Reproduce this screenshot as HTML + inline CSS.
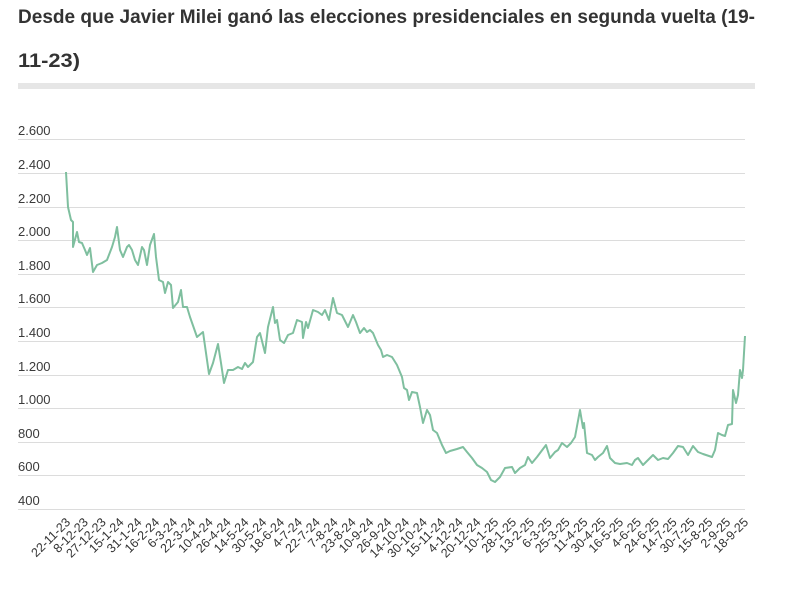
<!DOCTYPE html>
<html><head><meta charset="utf-8"><style>
html,body{margin:0;padding:0;background:#fff;width:800px;height:600px;overflow:hidden}
svg{display:block}
text{font-family:"Liberation Sans",sans-serif}
</style></head><body>
<svg width="800" height="600" viewBox="0 0 800 600" xmlns="http://www.w3.org/2000/svg">
<text x="18" y="23" font-size="19" font-weight="bold" fill="#333" textLength="737" lengthAdjust="spacingAndGlyphs">Desde que Javier Milei ganó las elecciones presidenciales en segunda vuelta (19-</text>
<text x="18" y="67" font-size="19" font-weight="bold" fill="#333" textLength="62" lengthAdjust="spacingAndGlyphs">11-23)</text>
<rect x="18" y="83" width="737" height="6" fill="#e6e6e6"/>
<g stroke="#dcdcdc" stroke-width="1">
<line x1="18" x2="745" y1="139.5" y2="139.5"/><line x1="18" x2="745" y1="173.5" y2="173.5"/>
<line x1="18" x2="745" y1="207.5" y2="207.5"/><line x1="18" x2="745" y1="240.5" y2="240.5"/>
<line x1="18" x2="745" y1="274.5" y2="274.5"/><line x1="18" x2="745" y1="307.5" y2="307.5"/>
<line x1="18" x2="745" y1="341.5" y2="341.5"/><line x1="18" x2="745" y1="375.5" y2="375.5"/>
<line x1="18" x2="745" y1="408.5" y2="408.5"/><line x1="18" x2="745" y1="442.5" y2="442.5"/>
<line x1="18" x2="745" y1="475.5" y2="475.5"/><line x1="18" x2="745" y1="509.5" y2="509.5"/>
</g>
<g font-size="13" fill="#3a3a3a">
<text x="18" y="135">2.600</text><text x="18" y="169">2.400</text><text x="18" y="203">2.200</text>
<text x="18" y="236">2.000</text><text x="18" y="270">1.800</text><text x="18" y="303">1.600</text>
<text x="18" y="337">1.400</text><text x="18" y="371">1.200</text><text x="18" y="404">1.000</text>
<text x="18" y="438">800</text><text x="18" y="471">600</text><text x="18" y="505">400</text>
</g>
<polyline fill="none" stroke="#7fbf9f" stroke-width="2" stroke-linejoin="round" points="66,172 68,207 71,220 73,222 73,247 77,232 79,242 82,243 85,250 87,255 90,248 93,272 97,265 102,263 107,260 112,247 115,237 117,227 120,250 123,257 127,247 129,245 132,250 135,260 138,265 142,247 144,250 147,265 150,245 154,234 156,257 159,280 163,282 165,293 168,282 171,285 173,308 178,302 181,290 183,307 187,307 190,317 197,337 203,332 209,374 213,363 218,344 221,363 224,383 228,370 233,370 238,367 242,369 245,363 248,367 253,362 257,337 260,333 265,353 268,327 273,307 275,323 277,320 280,340 284,343 288,335 293,333 297,320 302,322 303,338 306,322 308,328 313,310 318,312 322,315 325,310 329,320 333,298 337,313 342,315 348,327 353,315 356,322 360,333 364,328 367,332 370,330 373,333 378,345 381,350 383,357 387,355 392,357 397,365 402,377 404,388 407,390 409,400 412,392 417,393 420,407 423,423 427,410 430,415 433,430 437,433 442,445 446,453 450,451 457,449 463,447 467,452 472,458 477,465 482,468 487,472 491,480 495,482 500,477 505,468 512,467 515,473 520,468 525,465 528,457 532,463 537,457 540,453 546,445 550,458 555,452 558,450 562,443 567,447 571,443 575,437 580,410 583,428 584,423 587,453 592,455 595,460 598,457 603,453 607,446 610,458 615,463 620,464 627,463 632,465 635,460 638,458 643,465 648,460 653,455 658,460 663,458 668,459 673,453 678,446 683,447 688,455 693,446 698,452 703,454 712,457 715,450 718,433 722,435 725,436 728,425 732,424 733,390 736,403 738,395 740,370 742,378 743,370 745,336"/>
<g font-size="12.5" fill="#333" text-anchor="end" id="xl"></g>
</svg>
<script>
var L="22-11-23 8-12-23 27-12-23 15-1-24 31-1-24 16-2-24 6-3-24 22-3-24 10-4-24 26-4-24 14-5-24 30-5-24 18-6-24 4-7-24 22-7-24 7-8-24 23-8-24 10-9-24 26-9-24 14-10-24 30-10-24 15-11-24 4-12-24 20-12-24 10-1-25 28-1-25 13-2-25 6-3-25 25-3-25 11-4-25 30-4-25 16-5-25 4-6-25 24-6-25 14-7-25 30-7-25 15-8-25 2-9-25 18-9-25".split(" ");
var g=document.getElementById("xl"),n=L.length,s="";
for(var i=0;i<n;i++){var x=71+i*(678/(n-1)),y=523;
s+='<text x="'+x.toFixed(1)+'" y="'+y+'" transform="rotate(-45 '+x.toFixed(1)+' '+y+')">'+L[i]+'</text>';}
g.innerHTML=s;
</script>
</body></html>
